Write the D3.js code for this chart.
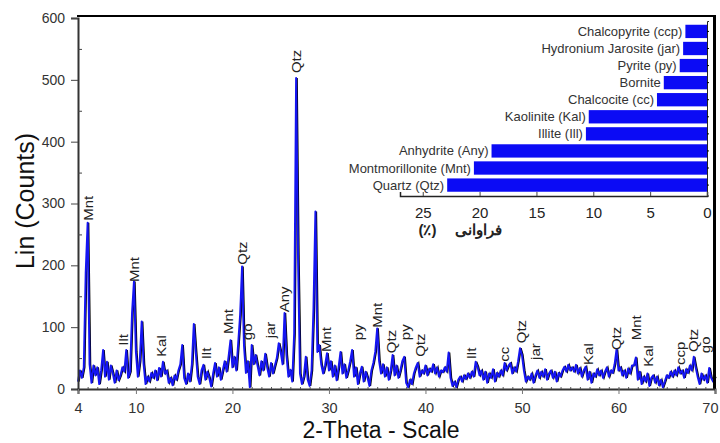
<!DOCTYPE html>
<html><head><meta charset="utf-8">
<script src="https://cdn.jsdelivr.net/npm/d3@7"></script>
<style>
body{margin:0;background:#fff}
text{font-family:Arial,"Liberation Sans",sans-serif}
</style>
</head><body>
<svg id="c" width="720" height="443"></svg>
<script>
// ---- data ----
const thetaStart = 4.0, thetaStep = 0.2;
const counts = [
 12,30,18,35,188,269,40,10,38,22,
 35,8,30,63,20,44,15,38,26,10,
 30,14,22,35,28,63,18,28,123,174,
 60,20,45,109,40,8,20,12,26,18,
 30,14,34,20,44,25,30,10,18,6,
 22,15,30,40,71,18,8,25,12,40,
 105,60,20,8,30,39,15,28,18,4,
 25,42,20,35,15,30,45,28,52,79,
 35,52,30,74,120,198,70,26,45,3,
 71,40,55,38,22,45,30,57,35,20,
 42,25,38,50,74,60,40,123,55,20,
 31,12,90,503,210,25,8,20,52,15,
 5,30,130,287,60,71,40,25,38,58,
 30,45,20,38,14,35,60,25,40,18,
 30,45,63,20,35,8,25,36,12,28,
 18,5,30,42,60,98,45,25,40,20,
 35,15,30,55,22,38,18,30,45,52,
 10,3,15,8,25,35,42,20,30,25,
 38,22,33,28,40,25,35,20,30,27,
 35,28,59,18,5,12,3,15,20,12,
 22,16,25,18,28,20,44,36,22,30,
 15,28,10,25,18,32,12,26,20,30,
 22,42,30,38,42,25,35,28,45,66,
 55,30,12,20,15,25,10,22,30,18,
 28,20,32,15,25,30,18,28,12,26,
 20,30,36,28,39,30,35,28,39,25,
 34,20,30,36,15,28,10,25,20,32,
 22,30,18,28,35,20,30,26,40,64,
 30,35,22,30,18,33,25,38,38,51,
 15,28,8,20,12,25,5,18,22,10,
 20,6,15,3,12,22,18,28,20,30,
 22,35,25,30,18,32,26,38,30,52,
 35,20,8,25,15,22,10,34,18,12,
 20
];
const peakLabels = ["Mnt","Ilt","Mnt","Kal","Ilt","Mnt","Qtz","go","jar","Any","Qtz","Mnt","py","Mnt","Qtz","py","Qtz","Ilt","cc","Qtz","jar","Kal","Qtz","Mnt","Kal","ccp","Qtz","go"];
const peakTheta  = [5.04,8.66,9.80,12.67,17.34,19.58,21.07,21.59,23.9,25.35,26.59,29.77,33.05,35.02,36.44,37.89,39.44,44.8,48.15,49.98,51.36,56.88,59.82,61.82,63.1,66.4,67.76,68.97];
const peakCount  = [272,70,173,52,48,89,201,79,82,124,511,60,79,99,58,79,52,48,44,74,47,39,63,79,36,39,60,58];

const minerals = ["Chalcopyrite (ccp)","Hydronium Jarosite (jar)","Pyrite (py)","Bornite","Chalcocite (cc)","Kaolinite (Kal)","Illite (Ill)","Anhydrite (Any)","Montmorillonite (Mnt)","Quartz (Qtz)"];
const abundance = [1.9,2.1,2.4,3.8,4.4,10.4,10.65,18.95,20.5,22.85];

const yTicks = [0,100,200,300,400,500,600];
const yMinor = [50,150,250,350,450,550];
const xTicks = [4,10,20,30,40,50,60,70];
const insetTicks = [0,5,10,15,20,25];
const insetTitle = "فراوانی (٪)";

// ---- drawing ----
const svg = d3.select("#c");
const x = d3.scaleLinear().domain([4,70]).range([78,715]);
const y = d3.scaleLinear().domain([0,600]).range([389,18]);

// spectrum
const thetas = counts.map((_,i)=> thetaStart + i*thetaStep);
const line = d3.line().x((d,i)=>x(thetas[i])).y(d=>y(d));
svg.append("path").datum(counts).attr("d",line)
  .attr("fill","none").attr("stroke","#000").attr("stroke-width",1.4)
  .attr("transform","translate(1,0)");
svg.append("path").datum(counts).attr("d",line)
  .attr("fill","none").attr("stroke","#1515f2").attr("stroke-width",2)
  .attr("stroke-linejoin","round");

// frame
svg.append("line").attr("x1",77).attr("x2",715).attr("y1",16).attr("y2",16)
  .attr("stroke","#000").attr("stroke-width",2);
svg.append("line").attr("x1",714.5).attr("x2",714.5).attr("y1",15).attr("y2",390)
  .attr("stroke","#000").attr("stroke-width",3);

// axes
const ya = svg.append("g").attr("transform","translate(78,0)")
  .call(d3.axisLeft(y).tickValues(yTicks).tickSize(7).tickPadding(6).tickFormat(d3.format("d")));
ya.select(".domain").attr("stroke","#333").attr("stroke-width",2);
ya.selectAll(".tick line").attr("stroke","#444");
ya.selectAll("text").attr("font-size",14).attr("fill","#333").attr("font-family","Arial, Liberation Sans, sans-serif");
const yam = svg.append("g").attr("transform","translate(78,0)")
  .call(d3.axisLeft(y).tickValues(yMinor).tickSize(-4).tickFormat(""));
yam.select(".domain").remove();
yam.selectAll(".tick line").attr("stroke","#444");

const xa = svg.append("g").attr("transform","translate(0,389)")
  .call(d3.axisBottom(x).tickValues(xTicks).tickSize(5).tickPadding(9).tickFormat(d3.format("d")));
xa.select(".domain").attr("stroke","#333").attr("stroke-width",2);
xa.selectAll(".tick line").attr("stroke","#777");
xa.selectAll("text").attr("font-size",14.5).attr("fill","#333").attr("font-family","Arial, Liberation Sans, sans-serif");
xa.selectAll(".tick").filter(d=>d===70).select("text").attr("text-anchor","end").attr("dx","3");
const xam = svg.append("g").attr("transform","translate(0,389)")
  .call(d3.axisBottom(x).tickValues(d3.range(5,70,1)).tickSize(-2).tickFormat(""));
xam.select(".domain").remove();
xam.selectAll(".tick line").attr("stroke","#555");

// titles
svg.append("text").attr("transform","translate(34,201) rotate(-90)")
  .attr("text-anchor","middle").attr("font-size",25).attr("fill","#111").text("Lin (Counts)");
svg.append("text").attr("x",381).attr("y",438)
  .attr("text-anchor","middle").attr("font-size",23).attr("fill","#111").text("2-Theta - Scale");

// peak labels
svg.append("g").selectAll("text").data(peakLabels).join("text")
  .attr("transform",(d,i)=>`translate(${x(peakTheta[i])},${y(peakCount[i])}) rotate(-90) scale(1.15,1)`)
  .attr("text-anchor","start").attr("dy","0.36em")
  .attr("font-size",13).attr("fill","#222").text(d=>d);

// inset bar chart
const ix = d3.scaleLinear().domain([0,27]).range([707,400]);
const iy = d3.scaleBand().domain(minerals).range([21,195.5]).padding(0.22);
svg.append("g").selectAll("rect").data(minerals).join("rect")
  .attr("x",(d,i)=>ix(abundance[i])).attr("y",d=>iy(d))
  .attr("width",(d,i)=>ix(0)-ix(abundance[i])).attr("height",iy.bandwidth())
  .attr("fill","#0b0bf5");
svg.append("g").selectAll("text").data(minerals).join("text")
  .attr("x",(d,i)=>ix(abundance[i])-3).attr("y",d=>iy(d)+iy.bandwidth()/2)
  .attr("dy","0.35em").attr("text-anchor","end")
  .attr("font-size",13).attr("fill","#333").text(d=>d);
const iya = svg.append("g").attr("transform","translate(707,0)")
  .call(d3.axisRight(iy).tickSize(2).tickFormat(""));
iya.select(".domain").attr("stroke","#222").attr("stroke-width",1);
const ixa = svg.append("g").attr("transform","translate(0,196)")
  .call(d3.axisBottom(ix).tickValues(insetTicks).tickSize(-4).tickPadding(11).tickFormat(d3.format("d")));
ixa.select(".domain").attr("stroke","#222").attr("stroke-width",1.5);
ixa.selectAll(".tick line").attr("stroke","#444");
ixa.selectAll("text").attr("font-size",15).attr("fill","#222").attr("font-family","Arial, Liberation Sans, sans-serif");
svg.append("text").attr("x",460).attr("y",235).attr("text-anchor","middle")
  .attr("direction","rtl").attr("font-size",15).attr("word-spacing","14px")
  .attr("font-weight","bold").attr("font-family","DejaVu Sans, sans-serif")
  .attr("fill","#222").text(insetTitle);
</script>
</body></html>
